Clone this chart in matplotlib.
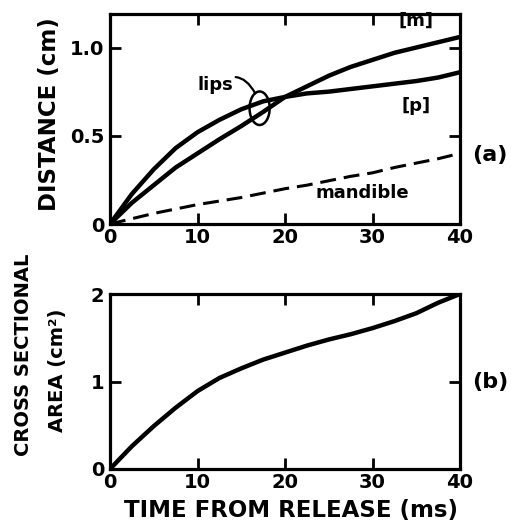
import matplotlib
matplotlib.use("Agg")
import matplotlib.pyplot as plt
from matplotlib.patches import Ellipse

# ---------------------------------------------------------------------------
# Data
# ---------------------------------------------------------------------------

t_ms = [0, 2.5, 5, 7.5, 10, 12.5, 15, 17.5, 20, 22.5, 25, 27.5, 30, 32.5, 35, 37.5, 40]

# (a) distance (cm)
lips_m = [0, 0.12, 0.22, 0.32, 0.40, 0.48, 0.555, 0.635, 0.72, 0.78, 0.84, 0.89, 0.93,
          0.97, 1.00, 1.03, 1.06]
lips_p = [0, 0.17, 0.31, 0.43, 0.52, 0.59, 0.65, 0.695, 0.72, 0.74, 0.75, 0.765, 0.78,
          0.795, 0.81, 0.83, 0.86]
mandible = [0, 0.03, 0.06, 0.085, 0.11, 0.13, 0.15, 0.175, 0.20, 0.22, 0.245, 0.27,
            0.29, 0.32, 0.345, 0.37, 0.40]

# (b) cross sectional area (cm^2)
area = [0, 0.26, 0.49, 0.70, 0.89, 1.04, 1.15, 1.25, 1.33, 1.41, 1.48, 1.54, 1.61,
        1.69, 1.78, 1.90, 2.00]

x_ticks = [0, 10, 20, 30, 40]
x_ticklabels = ["0", "10", "20", "30", "40"]
ya_ticks = [0, 0.5, 1.0]
ya_ticklabels = ["0", "0.5", "1.0"]
yb_ticks = [0, 1, 2]
yb_ticklabels = ["0", "1", "2"]

# ---------------------------------------------------------------------------
# Figure
# ---------------------------------------------------------------------------

plt.rcParams["font.family"] = ["DejaVu Sans"]
plt.rcParams["font.weight"] = "bold"

W, H = 518, 525
fig = plt.figure(figsize=(W / 100, H / 100), dpi=100)


def px_axes(left, top, right, bottom):
    return fig.add_axes([left / W, 1 - bottom / H, (right - left) / W, (bottom - top) / H])


ax_a = px_axes(110, 14, 460, 224)
ax_b = px_axes(110, 294, 460, 469)


def style(ax):
    for sp in ax.spines.values():
        sp.set_linewidth(2.3)
        sp.set_color("black")
    ax.tick_params(direction="in", length=8, width=2, top=True, right=True,
                   labelsize=14, pad=4, colors="black")
    ax.tick_params(axis="x", pad=3)
    ax.set_xlim(0, 40)
    ax.set_xticks(x_ticks)
    ax.set_xticklabels(x_ticklabels, fontweight="bold")


style(ax_a)
style(ax_b)

# --- (a) ---
ax_a.plot(t_ms, lips_m, color="black", lw=3.2, solid_capstyle="round", solid_joinstyle="round")
ax_a.plot(t_ms, lips_p, color="black", lw=3.2, solid_capstyle="round", solid_joinstyle="round")
ax_a.plot(t_ms, mandible, color="black", lw=2.2, dashes=(5.2, 2.6))
ax_a.set_ylim(0, 1.19)
ax_a.set_yticks(ya_ticks)
ax_a.set_yticklabels(ya_ticklabels, fontweight="bold")

ax_a.add_patch(Ellipse((17.1, 0.656), 2.3, 0.19, angle=0, fill=False,
                       edgecolor="black", lw=1.8))
ax_a.annotate("lips", xy=(16.6, 0.74), xytext=(12.0, 0.785),
              fontsize=13, fontweight="bold", ha="center", va="center",
              arrowprops=dict(arrowstyle="-", lw=1.6, color="black",
                              shrinkA=0, shrinkB=0,
                              connectionstyle="arc3,rad=-0.6"))
ax_a.text(35.0, 1.15, "[m]", fontsize=13, fontweight="bold", ha="center", va="center")
ax_a.text(35.0, 0.67, "[p]", fontsize=13, fontweight="bold", ha="center", va="center")
ax_a.text(28.8, 0.175, "mandible", fontsize=13, fontweight="bold", ha="center", va="center")

# --- (b) ---
ax_b.plot(t_ms, area, color="black", lw=3.2, solid_capstyle="round", solid_joinstyle="round")
ax_b.set_ylim(0, 2)
ax_b.set_yticks(yb_ticks)
ax_b.set_yticklabels(yb_ticklabels, fontweight="bold")

# --- labels ---
fig.text(50 / W, 1 - 114 / H, "DISTANCE (cm)", rotation=90, fontsize=16.5,
         fontweight="bold", ha="center", va="center")
fig.text(24 / W, 1 - 355 / H, "CROSS SECTIONAL", rotation=90, fontsize=14,
         fontweight="bold", ha="center", va="center")
fig.text(57 / W, 1 - 370 / H, "AREA (cm²)", rotation=90, fontsize=14,
         fontweight="bold", ha="center", va="center")
fig.text(291 / W, 1 - 511 / H, "TIME FROM RELEASE (ms)", fontsize=16.5,
         fontweight="bold", ha="center", va="center")
fig.text(490 / W, 1 - 155 / H, "(a)", fontsize=16, fontweight="bold",
         ha="center", va="center")
fig.text(490 / W, 1 - 382 / H, "(b)", fontsize=16, fontweight="bold",
         ha="center", va="center")

fig.savefig("out.png", dpi=100, facecolor="white")
